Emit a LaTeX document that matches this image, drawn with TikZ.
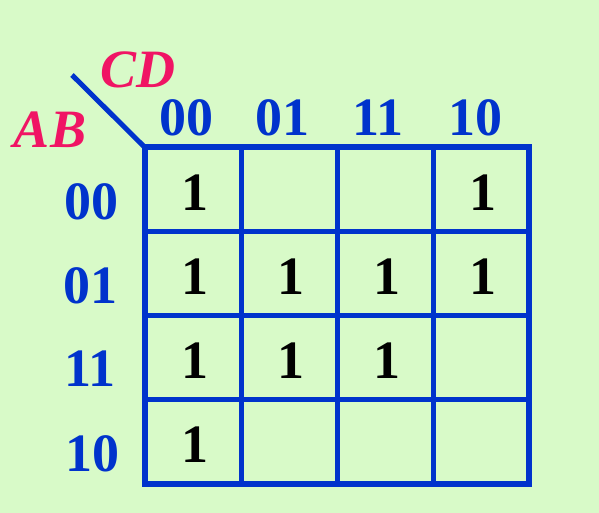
\documentclass[tikz,border=0pt]{standalone}
\usepackage{fontspec}
\setmainfont{Liberation Serif}
\usepackage{tikz}
\usetikzlibrary{positioning}
\definecolor{kblue}{RGB}{0,51,204}
\definecolor{kred}{RGB}{240,20,100}
\definecolor{kbg}{RGB}{216,250,200}
\begin{document}
\begin{tikzpicture}[
                x = 1pt, y = -1pt,
                big/.style = {font=\fontsize{54}{54}\selectfont\bfseries, inner sep=0pt},
                H/.style = {big, text=kblue},
                V/.style = {big, text=red!0!black},
                L/.style = {big, text=kred, font=\fontsize{54}{54}\selectfont\bfseries\itshape},
                grid/.style = {draw=kblue, line width=5pt}
                    ]
                \fill[kbg] (0,0) rectangle (599,513);
                \useasboundingbox (0,0) rectangle (599,513);
                % map
                \coordinate (corner) at (145,147.5);
                \coordinate (tail) at (72,75);
                \draw[grid] (241,147.5) -- (241,483.5);
                \draw[grid] (337,147.5) -- (337,483.5);
                \draw[grid] (433,147.5) -- (433,483.5);
                \draw[grid] (145,231.5) -- (529,231.5);
                \draw[grid] (145,315.5) -- (529,315.5);
                \draw[grid] (145,399.5) -- (529,399.5);
                \draw[grid, line width=6pt] (corner) rectangle (529,483.5);
                \draw[grid] (tail) -- (corner);
                % variable names
                \node[L] (cd) at (138,70) {CD};
                \node[L] (ab) at (50,130) {AB};
                % column and row labels
                \begin{scope}[nodes=H]
                \node (c00) at (186,118) {00};
                \node (c01) at (282,118) {01};
                \node (c11) at (378,118) {11};
                \node (c10) at (475,118) {10};
                \node (r00) at (91,202) {00};
                \node (r01) at (90,286) {01};
                \node (r11) at (90,369) {11};
                \node (r10) at (92,454) {10};
                \end{scope}
                % ones
                \begin{scope}[nodes=V]
                \node (m0) at (195,193) {1};
                \node (m2) at (483,193) {1};
                \node (m4) at (195,277) {1};
                \node (m5) at (291,277) {1};
                \node (m7) at (387,277) {1};
                \node (m6) at (483,277) {1};
                \node (m12) at (195,361) {1};
                \node (m13) at (291,361) {1};
                \node (m15) at (387,361) {1};
                \node (m8) at (195,445) {1};
                \end{scope}
            \end{tikzpicture}
\end{document}
